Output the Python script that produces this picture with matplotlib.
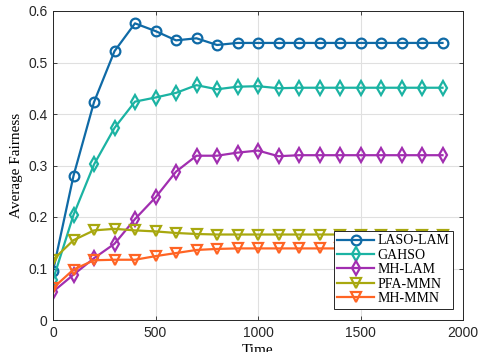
import matplotlib
matplotlib.use("Agg")
import matplotlib.pyplot as plt
import numpy as np

time = list(range(0, 2000, 100))

laso_lam = [0.095, 0.280, 0.423, 0.522, 0.576, 0.561, 0.543, 0.547, 0.534, 0.538,
            0.538, 0.538, 0.538, 0.538, 0.538, 0.538, 0.538, 0.538, 0.538, 0.538]
gahso = [0.078, 0.204, 0.302, 0.373, 0.424, 0.432, 0.441, 0.456, 0.448, 0.453,
         0.454, 0.450, 0.451, 0.451, 0.451, 0.451, 0.451, 0.451, 0.451, 0.451]
mh_lam = [0.055, 0.088, 0.120, 0.148, 0.196, 0.238, 0.288, 0.319, 0.319, 0.325,
          0.329, 0.318, 0.320, 0.320, 0.320, 0.320, 0.320, 0.320, 0.320, 0.320]
pfa_mmn = [0.117, 0.155, 0.174, 0.177, 0.174, 0.172, 0.169, 0.167, 0.166, 0.166,
           0.166, 0.166, 0.166, 0.166, 0.166, 0.166, 0.166, 0.166, 0.166, 0.166]
mh_mmn = [0.062, 0.098, 0.116, 0.117, 0.117, 0.124, 0.130, 0.136, 0.138, 0.139,
          0.139, 0.139, 0.139, 0.139, 0.139, 0.139, 0.139, 0.139, 0.139, 0.139]

series = [
    ("LASO-LAM", laso_lam, "#0f6aa6", "o"),
    ("GAHSO", gahso, "#1bb3a3", "d"),
    ("MH-LAM", mh_lam, "#a12eb0", "d"),
    ("PFA-MMN", pfa_mmn, "#a8a80f", "v"),
    ("MH-MMN", mh_mmn, "#ff6424", "v"),
]

fig = plt.figure(figsize=(4.79, 3.52), dpi=100)
ax = fig.add_axes([53 / 479, 1 - 320 / 352, 410 / 479, 309 / 352])

for name, vals, col, mk in series:
    ax.plot(time, vals, color=col, marker=mk, markersize=7, markerfacecolor="none",
            markeredgewidth=1.6, linewidth=1.6, label=name)

ax.set_xlim(0, 2000)
ax.set_ylim(0, 0.6)
ax.set_xticks([0, 500, 1000, 1500, 2000])
ax.set_yticks([0, 0.1, 0.2, 0.3, 0.4, 0.5, 0.6])
ax.set_yticklabels(["0", "0.1", "0.2", "0.3", "0.4", "0.5", "0.6"])
ax.grid(True, color="#e0e0e0", linewidth=0.8)
ax.set_axisbelow(True)
for s in ax.spines.values():
    s.set_color("#262626")
    s.set_linewidth(0.7)
ax.tick_params(direction="in", length=3, width=0.6, labelsize=10, colors="#262626",
               top=True, right=True, pad=4)
for lbl in ax.get_xticklabels() + ax.get_yticklabels():
    lbl.set_fontfamily("Liberation Sans")

ax.set_xlabel("Time", fontfamily="Liberation Serif", fontsize=11, labelpad=3)
ax.set_ylabel("Average Fairness", fontfamily="Liberation Serif", fontsize=11, labelpad=4)

leg = ax.legend(loc="upper left", bbox_to_anchor=(334 / 479 * 479 / 410 - 53 / 410, (320 - 231) / 309),
                prop={"family": "Liberation Serif", "size": 10}, fancybox=False,
                edgecolor="#262626", framealpha=1, borderpad=0.25, labelspacing=0.1,
                handlelength=2.6, handletextpad=0.3, borderaxespad=0)
leg.get_frame().set_linewidth(0.7)

fig.savefig("out.png", dpi=100)
